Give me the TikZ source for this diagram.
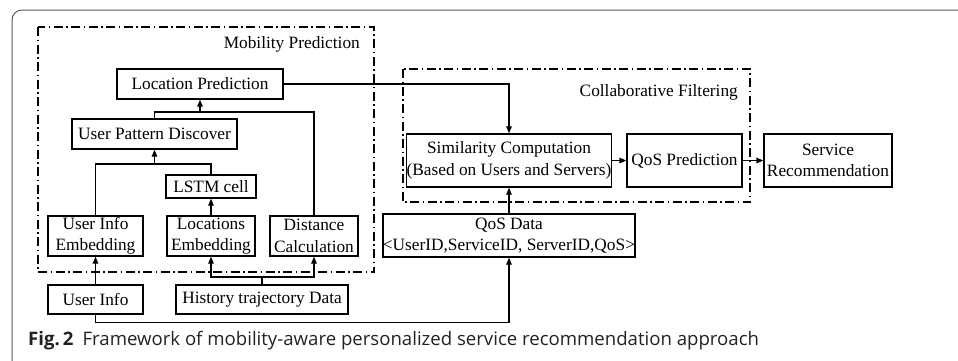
\documentclass[tikz,border=0pt]{standalone}
\usepackage{fontspec}
\setmainfont{Liberation Serif}
\newfontfamily\capfont{Open Sans}
\usetikzlibrary{arrows.meta}
\definecolor{framegray}{HTML}{5A5A5A}
\definecolor{captext}{HTML}{222222}
\begin{document}
\begin{tikzpicture}[x=1pt,y=-1pt,
  box/.style={draw,line width=1.3pt,inner sep=0pt,align=center,font=\fontsize{17.3}{21.5}\selectfont},
  conn/.style={line width=1.3pt},
  arr/.style={conn,-{Triangle[length=7pt,width=5.5pt]}},
  group/.style={draw,line width=1.2pt,dash pattern=on 9pt off 3.5pt on 1.5pt off 3.5pt},
  lbl/.style={font=\fontsize{17.3}{20}\selectfont,anchor=east,inner sep=0pt}]
\useasboundingbox (0,0) rectangle (958,360);
% outer frame
\draw[framegray,line width=1pt,rounded corners=10pt] (12,362) -- (12,10) -- (960,10);
% groups
\draw[group] (38,27) rectangle (374,272);
\node[lbl] (mplabel) at (360,44) {Mobility Prediction};
\draw[group] (403,69) rectangle (750,202);
\node[lbl] (cflabel) at (738,92) {Collaborative Filtering};
% boxes
\node[box,minimum width=166pt,minimum height=30pt] (locpred) at (200,84) {Location Prediction};
\node[box,minimum width=165pt,minimum height=30pt] (upd) at (154.5,134) {User Pattern Discover};
\node[box,minimum width=90pt,minimum height=23pt] (lstm) at (211,186.5) {LSTM cell};
\node[box,minimum width=95pt,minimum height=40pt] (uie) at (95.5,236) {User Info\\Embedding};
\node[box,minimum width=88pt,minimum height=40pt] (le) at (211,236) {Locations\\Embedding};
\node[box,minimum width=88pt,minimum height=40pt] (dc) at (314,236) {Distance\\Calculation};
\node[box,minimum width=95pt,minimum height=29pt] (ui) at (95.5,299.5) {User Info};
\node[box,minimum width=172pt,minimum height=29pt] (htd) at (262,299.5) {History trajectory Data};
\node[box,minimum width=196pt,minimum height=53pt] (sim) at (509,160.5) {Similarity Computation\\(Based on Users and Servers)};
\node[box,minimum width=115pt,minimum height=53pt] (qosp) at (684.5,160.5) {QoS Prediction};
\node[box,minimum width=128pt,minimum height=53pt] (sr) at (828,160.5) {Service\\Recommendation};
\node[box,minimum width=244pt,minimum height=43pt] (qosd) at (509,235.5) {QoS Data\\<UserID,ServiceID, ServerID,QoS>};
% junctions
\coordinate (j1) at (154.5,164);
\coordinate (j2) at (200,112);
\coordinate (j3) at (262,277);
% connectors
\draw[conn] (uie.north) |- (j1) -| (lstm.north);
\draw[arr] (j1) -- (upd.south);
\draw[conn] (upd.north) |- (j2) -| (dc.north);
\draw[arr] (j2) -- (locpred.south);
\draw[arr] (le.north) -- (lstm.south);
\draw[arr] (htd.north) -- (j3) -| (le.south);
\draw[arr] (j3) -| (dc.south);
\draw[arr] (ui.north) -- (uie.south);
\draw[arr] (ui.south) -- ++(0,8) -| (qosd.south);
\draw[arr] (locpred.east) -| (sim.north);
\draw[arr] (qosd.north) -- (sim.south);
\draw[arr] (sim.east) -- (qosp.west);
\draw[arr] (qosp.east) -- (sr.west);
% caption
\node[anchor=base west,inner sep=0pt,text=captext,font=\capfont\fontsize{18.6}{22}\selectfont] (cap) at (28,345) {\textbf{Fig.\,2}\hspace{9pt}Framework of mobility-aware personalized service recommendation approach};
\end{tikzpicture}
\end{document}
